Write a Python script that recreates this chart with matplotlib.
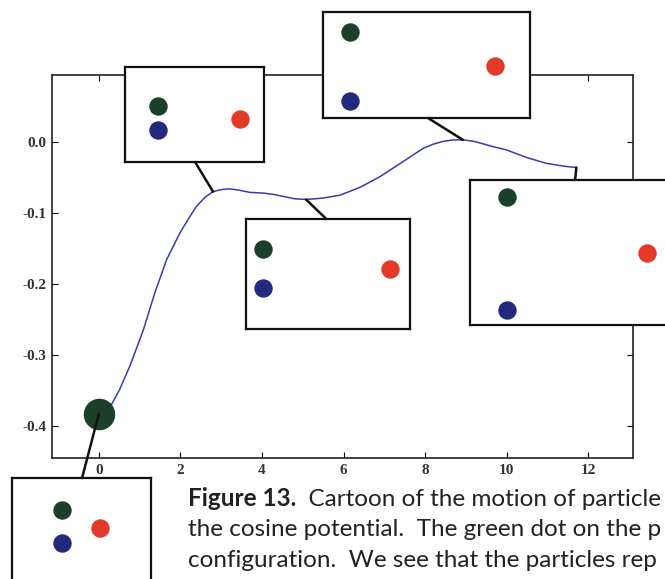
import matplotlib
matplotlib.use("Agg")
import matplotlib.pyplot as plt
from matplotlib.patches import ConnectionPatch

# potential curve
curve_x = [0.0, 0.15, 0.31, 0.50, 0.76, 1.09, 1.37, 1.66, 1.99, 2.20, 2.39, 2.60,
           2.80, 3.00, 3.21, 3.45, 3.70, 4.03, 4.30, 4.55, 4.80, 5.08, 5.30, 5.50,
           5.91, 6.40, 6.89, 7.45, 7.95, 8.20, 8.45, 8.70, 8.93, 9.20, 9.45, 9.70,
           9.99, 10.50, 10.97, 11.40, 11.71]
curve_y = [-0.383, -0.378, -0.370, -0.350, -0.316, -0.265, -0.213, -0.166, -0.128,
           -0.108, -0.091, -0.078, -0.070, -0.067, -0.066, -0.068, -0.071, -0.072,
           -0.074, -0.077, -0.080, -0.081, -0.080, -0.079, -0.075, -0.064, -0.049,
           -0.028, -0.009, -0.003, 0.001, 0.003, 0.003, 0.001, -0.003, -0.007,
           -0.011, -0.022, -0.030, -0.034, -0.036]

start_x, start_y = 0.0, -0.383

x_ticks = [0, 2, 4, 6, 8, 10, 12]
y_ticks = [0.0, -0.1, -0.2, -0.3, -0.4]
y_labels = ["0.0", "-0.1", "-0.2", "-0.3", "-0.4"]

# particle snapshots: box in pixels (left, top, right, bottom), anchor on curve,
# attach point on box edge, and the three particle positions (green, blue, red)
snap_boxes = [
    (12, 478, 151, 600),
    (125, 67, 264, 162),
    (246, 219, 410, 329),
    (323, 12, 530, 118),
    (470, 180, 700, 325),
]
snap_anchor = [(0.0, -0.383), (2.80, -0.070), (5.08, -0.081), (8.93, 0.003), (11.71, -0.036)]
snap_attach = [(0.504, 1.0), (0.504, 0.0), (0.49, 1.0), (0.507, 0.0), (0.457, 1.0)]
green_pos = [(0.36, 0.738), (0.237, 0.589), (0.104, 0.727), (0.130, 0.811), (0.161, 0.883)]
blue_pos = [(0.36, 0.467), (0.237, 0.337), (0.104, 0.373), (0.130, 0.160), (0.161, 0.103)]
red_pos = [(0.633, 0.590), (0.827, 0.453), (0.878, 0.545), (0.831, 0.491), (0.770, 0.497)]

caption = [
    ("Figure 13.", "  Cartoon of the motion of particle"),
    ("", "the cosine potential.  The green dot on the p"),
    ("", "configuration.  We see that the particles rep"),
]

GREEN = "#1c3f2a"
BLUE = "#232a7e"
RED = "#e23a26"
W, H = 665, 579

fig = plt.figure(figsize=(W / 100, H / 100), dpi=100)
fig.patch.set_facecolor("white")


def px_rect(l, t, r, b):
    return [l / W, 1 - b / H, (r - l) / W, (b - t) / H]


ax = fig.add_axes(px_rect(52, 75, 633, 458))
ax.plot(curve_x, curve_y, color="#3a3ab4", lw=1.1, zorder=2)
ax.scatter([start_x], [start_y], s=470, color=GREEN, zorder=3)
ax.set_xlim(-1.15, 13.1)
ax.set_ylim(-0.4455, 0.0945)
ax.set_xticks(x_ticks)
ax.set_yticks(y_ticks)
ax.set_yticklabels(y_labels)
for lab in ax.get_xticklabels() + ax.get_yticklabels():
    lab.set_fontfamily("Liberation Serif")
    lab.set_fontweight("bold")
    lab.set_fontsize(11)
    lab.set_color("#333333")
ax.tick_params(direction="in", length=4, width=0.8, top=True, right=True, pad=4)
for s in ax.spines.values():
    s.set_linewidth(1.2)
    s.set_color("#222222")

for i, box in enumerate(snap_boxes):
    inset = fig.add_axes(px_rect(*box))
    inset.set_xlim(0, 1)
    inset.set_ylim(0, 1)
    inset.set_xticks([])
    inset.set_yticks([])
    for s in inset.spines.values():
        s.set_linewidth(1.6)
        s.set_color("#111111")
    inset.scatter([green_pos[i][0]], [green_pos[i][1]], s=150, color=GREEN, zorder=3)
    inset.scatter([blue_pos[i][0]], [blue_pos[i][1]], s=150, color=BLUE, zorder=3)
    inset.scatter([red_pos[i][0]], [red_pos[i][1]], s=150, color=RED, zorder=3)
    con = ConnectionPatch(xyA=snap_anchor[i], coordsA=ax.transData,
                          xyB=snap_attach[i], coordsB=inset.transAxes,
                          color="#111111", lw=1.8, zorder=1)
    fig.add_artist(con)

y0 = 506
for bold, rest in caption:
    t = fig.text(188 / W, 1 - y0 / H, bold, fontsize=17.5, fontweight="bold",
                 family="Lato", va="baseline", color="#222222")
    if bold:
        fig.canvas.draw()
        bb = t.get_window_extent()
        x1 = bb.x1 / W
    else:
        x1 = 188 / W
    fig.text(x1, 1 - y0 / H, rest, fontsize=17.5, family="Lato", va="baseline",
             color="#222222")
    y0 += 30.5

fig.savefig("out.png", dpi=100)
